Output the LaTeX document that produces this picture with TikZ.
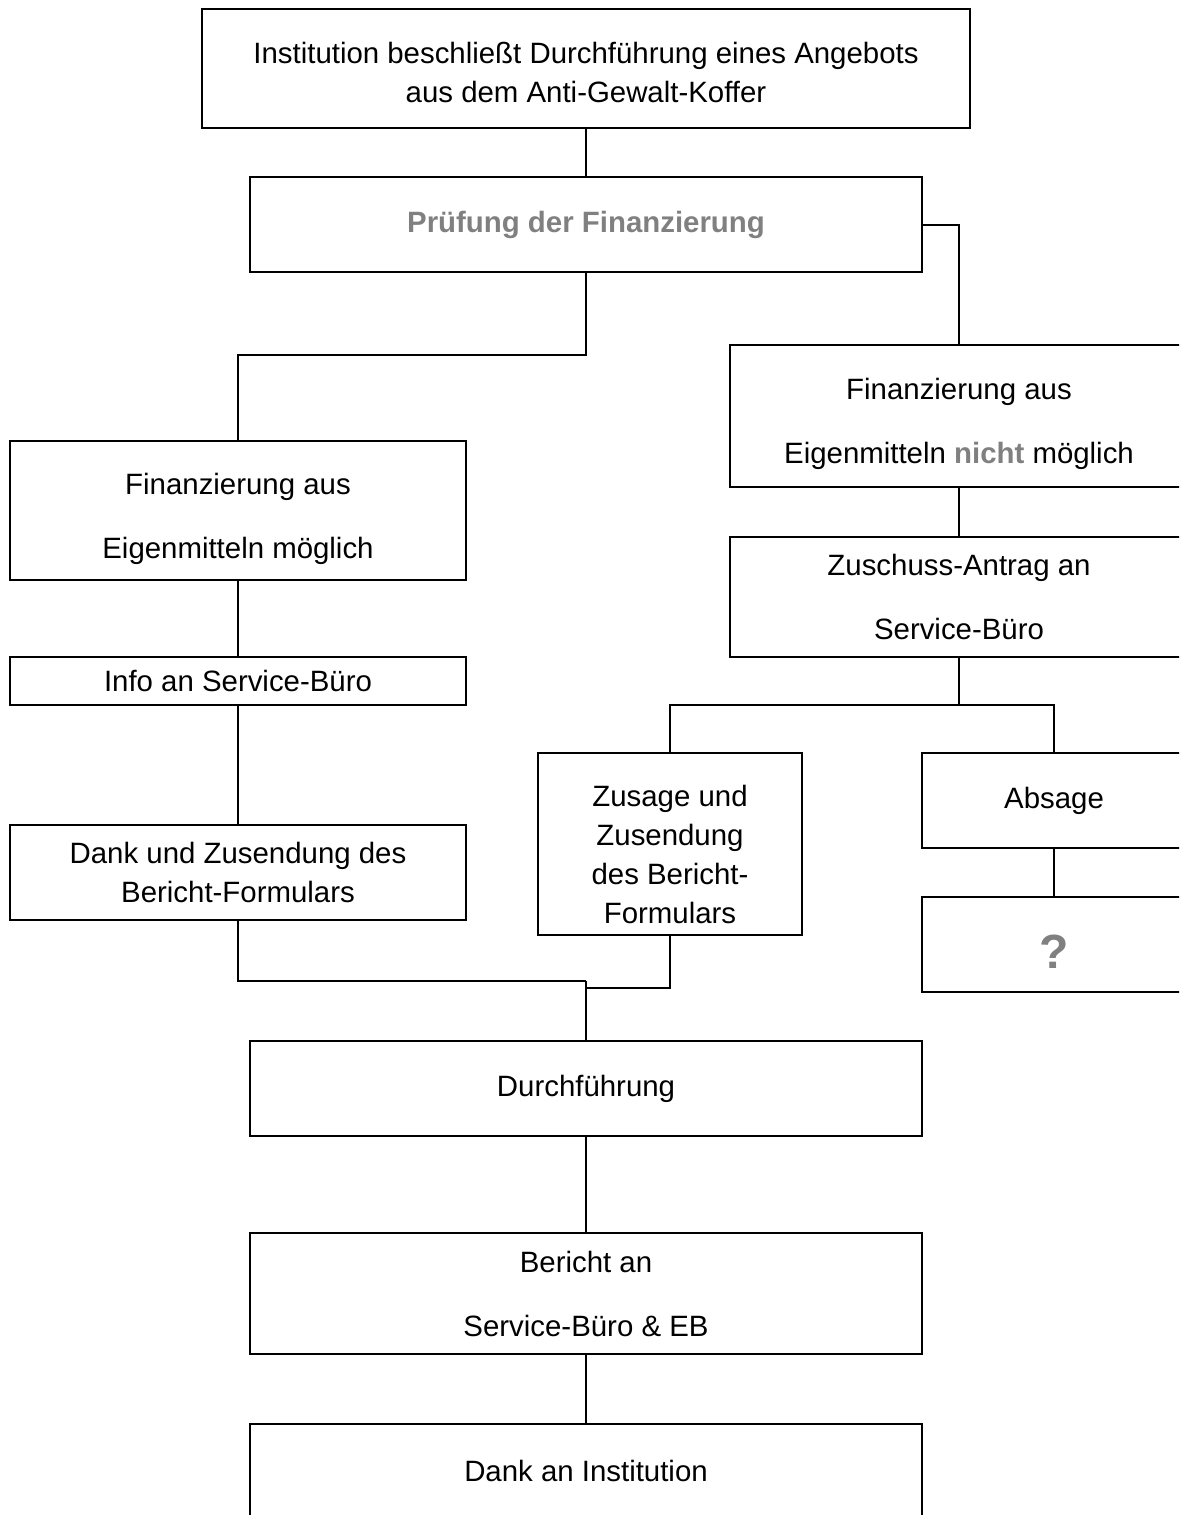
\documentclass[tikz,border=0pt]{standalone}
\usepackage{fontspec}
\setmainfont{Liberation Sans}
\definecolor{grau}{gray}{0.5}

\tikzset{
  box/.style={draw, line width=1pt, inner sep=0pt, outer sep=0pt, align=center,
    font=\fontsize{14.7}{19.5}\selectfont},
  wide/.style={box, font=\fontsize{14.7}{32}\selectfont},
  link/.style={line width=1pt}
}
\newcommand{\lift}[1]{\rule{0pt}{#1}}

\begin{document}
\begin{tikzpicture}[x=0.5pt, y=-0.5pt]
\useasboundingbox (0,0) rectangle (1179,1515);
\clip (0,0) rectangle (1179,1515);

\node[box, minimum width=384pt, minimum height=59.5pt] (inst) at (586,68.5)
  {\lift{15pt}Institution beschließt Durchführung eines Angebots\\aus dem Anti-Gewalt-Koffer};
\node[box, minimum width=336pt, minimum height=47.5pt] (pruef) at (586,224.5)
  {\textcolor{grau}{\bfseries Prüfung der Finanzierung}};

\node[wide, minimum width=229pt, minimum height=71pt] (nicht) at (959,416)
  {\lift{19pt}Finanzierung aus\\Eigenmitteln \textcolor{grau}{\bfseries nicht} möglich};
\node[wide, minimum width=229pt, minimum height=60pt] (zusch) at (959,597)
  {Zuschuss-Antrag an\\Service-Büro};

\node[wide, minimum width=228pt, minimum height=69.5pt] (eigen) at (238,510.5)
  {\lift{19pt}Finanzierung aus\\Eigenmitteln möglich};
\node[box, minimum width=228pt, minimum height=24pt] (info) at (238,681)
  {Info an Service-Büro};
\node[box, minimum width=228pt, minimum height=47.5pt] (dankzu) at (238,872.5)
  {Dank und Zusendung des\\Bericht-Formulars};

\node[box, minimum width=132pt, minimum height=91pt] (zusage) at (670,844)
  {\lift{21pt}Zusage und\\Zusendung\\des Bericht-\\Formulars};
\node[box, minimum width=132pt, minimum height=47.5pt] (absage) at (1054,800.5)
  {Absage};
\node[box, minimum width=132pt, minimum height=47.5pt] (frage) at (1054,944.5)
  {\fontsize{24}{28}\selectfont\bfseries\lift{23.5pt}\textcolor{grau}{?}};

\node[box, minimum width=336pt, minimum height=47.5pt] (durch) at (586,1088.5)
  {Durchführung};
\node[wide, minimum width=336pt, minimum height=60.5pt] (bericht) at (586,1293.5)
  {Bericht an\\Service-Büro \& EB};
\node[box, minimum width=336pt, minimum height=47.5pt] (dankinst) at (586,1471)
  {Dank an Institution};

\coordinate (split) at (586,355);
\coordinate (fork) at (959,705);
\coordinate (joinL) at (586,981);
\coordinate (joinR) at (586,988);

\draw[link] (inst.south) -- (pruef.north);
\draw[link] (pruef.south) -- (split) -| (eigen.north);
\draw[link] (pruef.east) -| (nicht.north);
\draw[link] (nicht.south) -- (zusch.north);
\draw[link] (eigen.south) -- (info.north);
\draw[link] (info.south) -- (dankzu.north);
\draw[link] (zusch.south) -- (fork);
\draw[link] (zusage.north) |- (fork) -| (absage.north);
\draw[link] (absage.south) -- (frage.north);
\draw[link] (dankzu.south) |- (joinL);
\draw[link] (zusage.south) |- (joinR);
\draw[link] (joinL) -- (durch.north);
\draw[link] (durch.south) -- (bericht.north);
\draw[link] (bericht.south) -- (dankinst.north);
\end{tikzpicture}
\end{document}
